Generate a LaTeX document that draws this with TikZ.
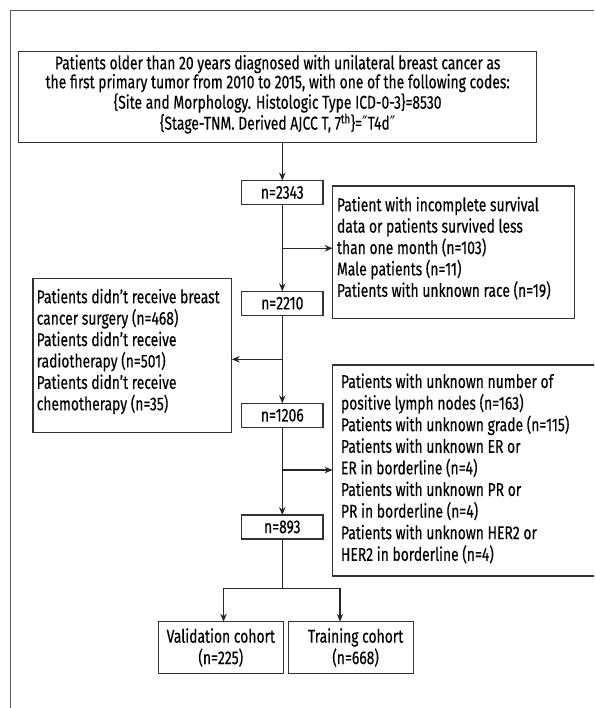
\documentclass[tikz,border=0pt]{standalone}
\usepackage{fontspec}
\setmainfont{Fira Sans}[FakeStretch=0.75, FakeBold=0.3]
\newfontfamily\djv{DejaVu Sans}[FakeStretch=0.8]
\usetikzlibrary{arrows.meta}
\begin{document}
\begin{tikzpicture}[x=1pt,y=-1pt,
  frame/.style={draw=black!80, line width=1.1pt, inner sep=0pt, outer sep=0pt, anchor=north west},
  txt/.style={inner sep=0pt, outer sep=0pt, align=left, anchor=west, yshift=4pt, font=\fontsize{18.5}{21.4}\selectfont},
  box/.style={draw=black!80, line width=1.1pt, inner sep=0pt, outer sep=0pt, align=center, font=\fontsize{18.5}{21.4}\selectfont},
  nbox/.style={box, minimum width=81.3pt, minimum height=24pt},
  conn/.style={line width=1.1pt, draw=black!85},
  arr/.style={conn, -{Stealth[length=8pt,width=6.5pt]}},
]
\clip (0,0) rectangle (594,708);
\draw[black!65, line width=1pt] (10.2,708) -- (10.2,11) -- (594,11);

\node[box, minimum width=518.1pt, minimum height=91pt] (top) at (277.65,97.2) {};
\node[inner sep=0pt, align=center, yshift=3pt, font=\fontsize{18.5}{19}\selectfont] (topt) at (top.center)
 {Patients older than 20 years diagnosed with unilateral breast cancer as\\
  the first primary tumor from 2010 to 2015, with one of the following codes:\\
  \{Site and Morphology. Histologic Type ICD-0-3\}=8530\\
  \{Stage-TNM. Derived AJCC T, 7\textsuperscript{th}\}={\djv ″}T4d{\djv ″}};

\node[nbox] (n1) at (282.3,192.5) {n=2343};
\node[nbox] (n2) at (282.3,303.3) {n=2210};
\node[nbox] (n3) at (282.3,415.3) {n=1206};
\node[nbox] (n4) at (282.3,527) {n=893};

\node[frame, minimum width=242pt, minimum height=132.3pt] (r1) at (332.6,186) {};
\node[txt] (r1t) at ([xshift=4.4pt]r1.west)
 {Patient with incomplete survival\\
  data or patients survived less\\
  than one month (n=103)\\
  Male patients (n=11)\\
  Patients with unknown race (n=19)};

\node[frame, minimum width=198.8pt, minimum height=154.4pt] (l1) at (33,278.3) {};
\node[txt] (l1t) at ([xshift=3.7pt]l1.west)
 {Patients didn’t receive breast\\
  cancer surgery (n=468)\\
  Patients didn’t receive\\
  radiotherapy (n=501)\\
  Patients didn’t receive\\
  chemotherapy (n=35)};

\node[frame, minimum width=300pt, minimum height=211pt] (r2) at (332.6,365) {};
\node[txt, yshift=-2pt, font=\fontsize{18.5}{21.6}\selectfont] (r2t) at ([xshift=8.4pt]r2.west)
 {Patients with unknown number of\\
  positive lymph nodes (n=163)\\
  Patients with unknown grade (n=115)\\
  Patients with unknown ER or\\
  ER in borderline (n=4)\\
  Patients with unknown PR or\\
  PR in borderline (n=4)\\
  Patients with unknown HER2 or\\
  HER2 in borderline (n=4)};

\node[box, minimum width=125pt, minimum height=51.6pt] (val) at (220.8,647.5) {Validation cohort\\(n=225)};
\node[box, minimum width=125pt, minimum height=51.6pt] (tr) at (351.1,647.5) {\hspace*{9pt}Training cohort\\\hspace*{9pt}(n=668)};

\coordinate (j1) at (282.3,248.3);
\coordinate (j2) at (282.3,359.3);
\coordinate (j3) at (282.3,470);
\coordinate (sp) at (282.3,588.3);
\coordinate (sl) at (223.5,588.3);
\coordinate (sr) at (340,588.3);

\draw[arr] (top.south -| n1.north) -- (n1.north);
\draw[arr] (n1.south) -- (n2.north);
\draw[arr] (n2.south) -- (n3.north);
\draw[arr] (n3.south) -- (n4.north);
\draw[arr] (j1) -- (j1 -| r1.west);
\draw[arr] (j2) -- (j2 -| l1.east);
\draw[arr] (j3) -- (j3 -| r2.west);
\draw[conn] (n4.south) -- (sp);
\draw[conn] (sl) -- (sr);
\draw[arr] (sl) -- (sl |- val.north);
\draw[arr] (sr) -- (sr |- tr.north);
\end{tikzpicture}
\end{document}
